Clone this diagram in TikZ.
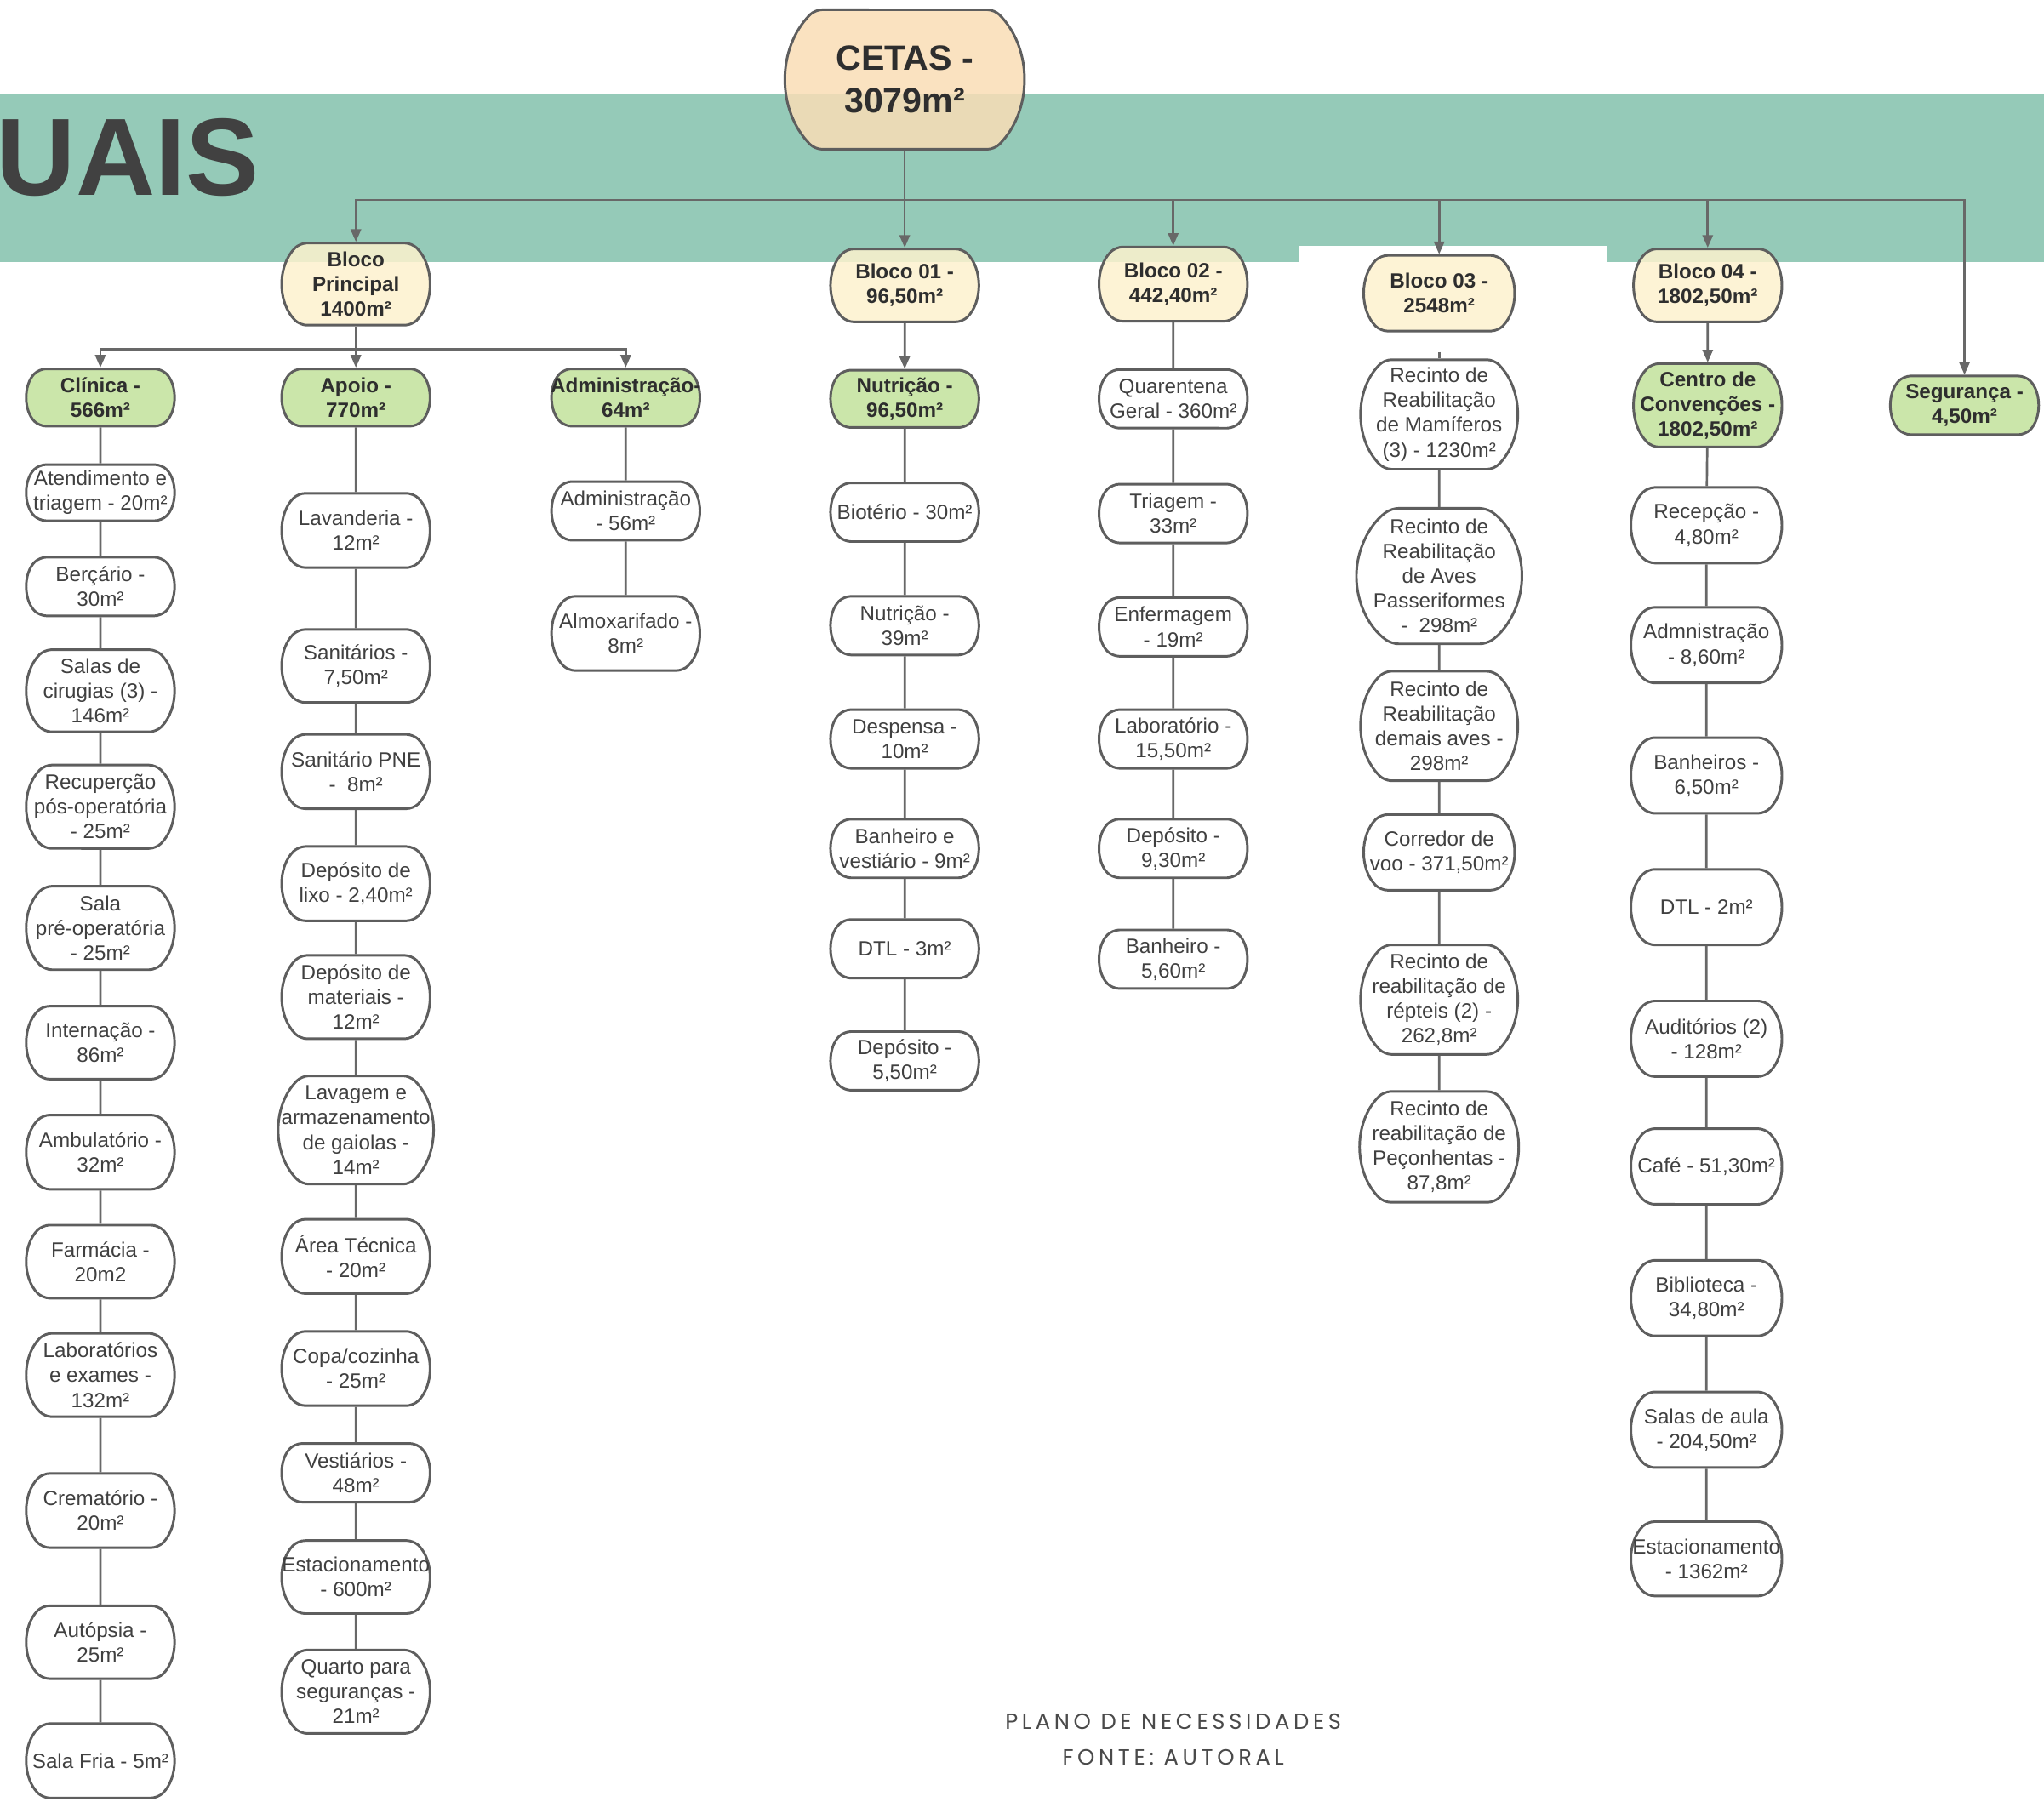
\documentclass[tikz,border=0pt]{standalone}
\usepackage{fontspec}
\setmainfont{Liberation Sans}
\newfontfamily\capfont[LetterSpace=18]{Poppins}
\usetikzlibrary{shapes.misc,arrows.meta}
\definecolor{band}{HTML}{95CAB8}
\definecolor{peach}{HTML}{FADDB6}
\definecolor{ylw}{HTML}{FDF2CE}
\definecolor{grn}{HTML}{CBE6AA}
\definecolor{edge}{HTML}{5E5E5E}
\definecolor{txt}{HTML}{404040}
\definecolor{btxt}{HTML}{2E2E2E}
\definecolor{lin}{HTML}{686868}
\definecolor{uais}{HTML}{414141}
\definecolor{cap}{HTML}{4A4A4A}
\newcommand\ov[1]{\makebox[1.6cm]{#1}}
\begin{document}
\begin{tikzpicture}[x=0.02cm,y=-0.02cm,
  box/.style={rounded rectangle, rounded rectangle arc length=90, rounded corners=3pt,
    draw=edge, line width=1.1pt, fill=white, text=txt,
    font=\fontsize{9}{10.8}\selectfont, align=center,
    inner xsep=0pt, inner ysep=1pt, minimum width=2.24cm},
  tall/.style={rounded rectangle arc length=110},
  gbox/.style={box, fill=grn, text=btxt, font=\bfseries\fontsize{9}{10.8}\selectfont},
  ybox/.style={box, fill=ylw, fill opacity=0.85, text opacity=1, text=btxt,
    font=\bfseries\fontsize{9}{10.8}\selectfont},
  wd/.style={minimum width=#1*0.02cm},
  ht/.style={minimum height=#1*0.02cm},
  ln/.style={draw=lin, line width=1pt},
  arr/.style={ln, -{Triangle[length=5.5pt,width=4.5pt]}, lin}
]
\useasboundingbox (0,0) rectangle (1568,1382);
\clip (0,0) rectangle (1568,1382);
\fill[white] (0,0) rectangle (1568,1382);
% band
\fill[band] (0,71.5) rectangle (1568,201);
\fill[white] (997,188.5) rectangle (1233,202);
\node[anchor=base west, inner sep=0pt, text=uais,
  font=\bfseries\fontsize{48}{48}\selectfont] (uaistxt) at (-3,150) {UAIS};

% top
\node[box, wd=182, ht=107, fill=peach, fill opacity=0.85, text opacity=1, text=btxt,
  font=\bfseries\fontsize{15.3}{18.8}\selectfont] (cetas) at (694,61) {CETAS -\\3079m²};

\node[ybox, ht=63] (bp) at (273,218) {Bloco\\Principal\\1400m²};
\node[ybox, ht=56] (b1) at (694,219) {Bloco 01 -\\96,50m²};
\node[ybox, ht=57] (b2) at (900,218) {Bloco 02 -\\442,40m²};
\node[ybox, ht=58, wd=114] (b3) at (1104,225) {Bloco 03 -\\2548m²};
\node[ybox, ht=56] (b4) at (1310,219) {Bloco 04 -\\1802,50m²};
\node[gbox, ht=45] (seg) at (1507,311) {\ov{Segurança -}\\4,50m²};

% level 2
\node[gbox, ht=44] (cli) at (77,305) {Clínica -\\566m²};
\node[gbox, ht=44] (apo) at (273,305) {Apoio -\\770m²};
\node[gbox, ht=44] (adm) at (480,305) {\ov{Administração-}\\64m²};
\node[gbox, ht=44] (nut) at (694,306) {Nutrição -\\96,50m²};
\node[gbox, ht=64, wd=112] (cc) at (1310,311) {Centro de\\\ov{Convenções -}\\1802,50m²};

% Clinica column
\node[box, ht=43] (c1) at (77,378) {\ov{Atendimento e}\\\ov{triagem - 20m²}};
\node[box, ht=45] (c2) at (77,450) {Berçário -\\30m²};
\node[box, ht=63] (c3) at (77,530) {Salas de\\\ov{cirugias (3) -}\\146m²};
\node[box, ht=64] (c4) at (77,619) {\ov{Recuperção}\\\ov{pós-operatória}\\- 25m²};
\node[box, ht=64] (c5) at (77,712) {Sala\\\ov{pré-operatória}\\- 25m²};
\node[box, ht=56] (c6) at (77,800) {Internação -\\86m²};
\node[box, ht=57] (c7) at (77,884) {\ov{Ambulatório -}\\32m²};
\node[box, ht=56] (c8) at (77,968) {Farmácia -\\20m2};
\node[box, ht=64] (c9) at (77,1055) {\ov{Laboratórios}\\e exames -\\132m²};
\node[box, ht=57] (c10) at (77,1159) {Crematório -\\20m²};
\node[box, ht=56] (c11) at (77,1260) {Autópsia -\\25m²};
\node[box, ht=57] (c12) at (77,1351) {\ov{Sala Fria - 5m²}};

% Apoio column
\node[box, ht=57] (a1) at (273,407) {Lavanderia -\\12m²};
\node[box, ht=56] (a2) at (273,511) {Sanitários -\\7,50m²};
\node[box, ht=57] (a3) at (273,592) {\ov{Sanitário PNE}\\-\ \ 8m²};
\node[box, ht=57] (a4) at (273,678) {Depósito de\\\ov{lixo - 2,40m²}};
\node[box, ht=64] (a5) at (273,765) {Depósito de\\materiais -\\12m²};
\node[box, ht=83] (a6) at (273,867) {Lavagem e\\\ov{armazenamento}\\de gaiolas -\\14m²};
\node[box, ht=57] (a7) at (273,964) {\ov{Área Técnica}\\- 20m²};
\node[box, ht=57] (a8) at (273,1050) {\ov{Copa/cozinha}\\- 25m²};
\node[box, ht=45] (a9) at (273,1130) {Vestiários -\\48m²};
\node[box, ht=56] (a10) at (273,1210) {\ov{Estacionamento}\\- 600m²};
\node[box, ht=64] (a11) at (273,1298) {Quarto para\\\ov{seguranças -}\\21m²};

% Administracao column
\node[box, ht=45] (d1) at (480,392) {\ov{Administração}\\- 56m²};
\node[box, ht=57] (d2) at (480,486) {\ov{Almoxarifado -}\\8m²};

% Nutricao column
\node[box, ht=45] (n1) at (694,393) {\ov{Biotério - 30m²}};
\node[box, ht=45] (n2) at (694,480) {Nutrição -\\39m²};
\node[box, ht=45] (n3) at (694,567) {Despensa -\\10m²};
\node[box, ht=45] (n4) at (694,651) {Banheiro e\\\ov{vestiário - 9m²}};
\node[box, ht=45] (n5) at (694,728) {DTL - 3m²};
\node[box, ht=45] (n6) at (694,814) {Depósito -\\5,50m²};

% Bloco 02 column
\node[box, ht=45] (q1) at (900,306) {Quarentena\\\ov{Geral - 360m²}};
\node[box, ht=45] (q2) at (900,394) {Triagem -\\33m²};
\node[box, ht=45] (q3) at (900,481) {\ov{Enfermagem}\\- 19m²};
\node[box, ht=45] (q4) at (900,567) {\ov{Laboratório -}\\15,50m²};
\node[box, ht=45] (q5) at (900,651) {Depósito -\\9,30m²};
\node[box, ht=45] (q6) at (900,736) {Banheiro -\\5,60m²};

% Bloco 03 column
\node[box, ht=84, wd=114] (r1) at (1104,318) {Recinto de\\\ov{Reabilitação}\\\ov{de Mamíferos}\\\ov{(3) - 1230m²}};
\node[box, tall, ht=104, wd=114] (r2) at (1104,442) {Recinto de\\\ov{Reabilitação}\\de Aves\\\ov{Passeriformes}\\-\ \ 298m²};
\node[box, ht=84, wd=114] (r3) at (1104,557) {Recinto de\\\ov{Reabilitação}\\\ov{demais aves -}\\298m²};
\node[box, ht=58, wd=114] (r4) at (1104,654) {Corredor de\\\ov{voo - 371,50m²}};
\node[box, ht=84, wd=114] (r5) at (1104,767) {Recinto de\\\ov{reabilitação de}\\répteis (2) -\\262,8m²};
\node[box, ht=85, wd=114] (r6) at (1104,880) {Recinto de\\\ov{reabilitação de}\\\ov{Peçonhentas -}\\87,8m²};

% Bloco 04 column
\node[box, ht=58, wd=114] (e1) at (1309,403) {Recepção -\\4,80m²};
\node[box, ht=58, wd=114] (e2) at (1309,495) {\ov{Admnistração}\\- 8,60m²};
\node[box, ht=58, wd=114] (e3) at (1309,595) {Banheiros -\\6,50m²};
\node[box, ht=58, wd=114] (e4) at (1309,696) {DTL - 2m²};
\node[box, ht=58, wd=114] (e5) at (1309,797) {\ov{Auditórios (2)}\\- 128m²};
\node[box, ht=58, wd=114] (e6) at (1309,895) {\ov{Café - 51,30m²}};
\node[box, ht=58, wd=114] (e7) at (1309,996) {Biblioteca -\\34,80m²};
\node[box, ht=58, wd=114] (e8) at (1309,1097) {\ov{Salas de aula}\\- 204,50m²};
\node[box, ht=57, wd=114] (e9) at (1309,1196) {\ov{Estacionamento}\\- 1362m²};

% connectors
\coordinate (bus) at (694,153.5);
\coordinate (bus2) at (273,268);
\coordinate (stub) at (1104,270);
\draw[ln] (cetas.south) -- (bus);
\foreach \t in {bp,b1,b2,b3,b4,seg} \draw[arr] (bus) -| (\t.north);
\draw[ln] (bp.south) -- (bus2);
\foreach \t in {cli,apo,adm} \draw[arr] (bus2) -| (\t.north);
\draw[arr] (b1) -- (nut);
\draw[arr] (b4) -- (cc);
\draw[ln] (b2) -- (q1);
\draw[ln] (stub) -- (r1.north);
\foreach \a/\b in {cli/c1,c1/c2,c2/c3,c3/c4,c4/c5,c5/c6,c6/c7,c7/c8,c8/c9,c9/c10,c10/c11,c11/c12,
  apo/a1,a1/a2,a2/a3,a3/a4,a4/a5,a5/a6,a6/a7,a7/a8,a8/a9,a9/a10,a10/a11,
  adm/d1,d1/d2,
  nut/n1,n1/n2,n2/n3,n3/n4,n4/n5,n5/n6,
  q1/q2,q2/q3,q3/q4,q4/q5,q5/q6,
  r1/r2,r2/r3,r3/r4,r4/r5,r5/r6,
  cc/e1,e1/e2,e2/e3,e3/e4,e4/e5,e5/e6,e6/e7,e7/e8,e8/e9}
  \draw[ln] (\a) -- (\b);

% caption
\node[text=cap, font=\capfont\fontsize{9.6}{12}\selectfont, inner sep=0pt] (cap1) at (900,1321) {PLANO DE NECESSIDADES};
\node[text=cap, font=\capfont\fontsize{9.6}{12}\selectfont, inner sep=0pt] (cap2) at (900,1348) {FONTE: AUTORAL};
\end{tikzpicture}
\end{document}
